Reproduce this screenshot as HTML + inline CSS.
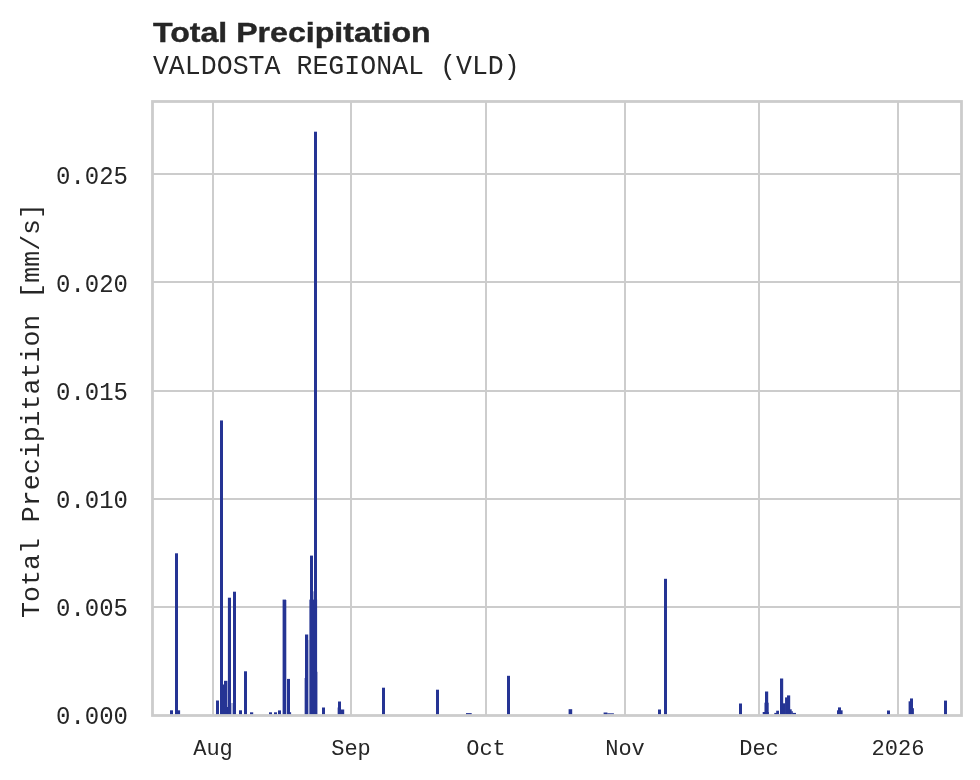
<!DOCTYPE html>
<html><head><meta charset="utf-8"><title>Total Precipitation</title><style>
html,body{margin:0;padding:0;background:#fff;}
svg{display:block;}
text{fill:#262626;}
.txt{filter:grayscale(1);}
.mono{font-family:"Liberation Mono",monospace;}
.sans{font-family:"Liberation Sans",sans-serif;}
</style></head><body>
<svg width="980" height="780" viewBox="0 0 980 780">
<rect x="0" y="0" width="980" height="780" fill="#fff"/>
<g stroke="#cccccc" stroke-width="1.94" fill="none">
<line x1="213" y1="101.5" x2="213" y2="715.5"/>
<line x1="351" y1="101.5" x2="351" y2="715.5"/>
<line x1="486" y1="101.5" x2="486" y2="715.5"/>
<line x1="625" y1="101.5" x2="625" y2="715.5"/>
<line x1="759" y1="101.5" x2="759" y2="715.5"/>
<line x1="898" y1="101.5" x2="898" y2="715.5"/>
<line x1="152.5" y1="174" x2="961.5" y2="174"/>
<line x1="152.5" y1="282" x2="961.5" y2="282"/>
<line x1="152.5" y1="391" x2="961.5" y2="391"/>
<line x1="152.5" y1="499" x2="961.5" y2="499"/>
<line x1="152.5" y1="607" x2="961.5" y2="607"/>
</g>
<g fill="#253494">
<rect x="170" y="710.3" width="3" height="5.2"/>
<rect x="175" y="553.3" width="3" height="162.2"/>
<rect x="177.5" y="710.3" width="2.6" height="5.2"/>
<rect x="216" y="700.5" width="3" height="15.0"/>
<rect x="220" y="420.45" width="3" height="295.05"/>
<rect x="220" y="684.5" width="4.2" height="31.0"/>
<rect x="224" y="680.8" width="3.4" height="34.7"/>
<rect x="226" y="707" width="3" height="8.5"/>
<rect x="227.9" y="597.7" width="3.1" height="117.8"/>
<rect x="233" y="591.7" width="3" height="123.8"/>
<rect x="239" y="710.3" width="3" height="5.2"/>
<rect x="244" y="671.3" width="3" height="44.2"/>
<rect x="250" y="712.3" width="3.2" height="3.2"/>
<rect x="269" y="712.3" width="3" height="3.2"/>
<rect x="274" y="712.3" width="3" height="3.2"/>
<rect x="278" y="710.4" width="3" height="5.1"/>
<rect x="282.6" y="599.6" width="3.4" height="115.9"/>
<rect x="287" y="678.9" width="3" height="36.6"/>
<rect x="290" y="712.2" width="1.1" height="3.3"/>
<rect x="305" y="634.5" width="3.2" height="81.0"/>
<rect x="309.4" y="599.6" width="7.7" height="115.9"/>
<rect x="310" y="555.6" width="3" height="159.9"/>
<rect x="314" y="131.7" width="3" height="583.8"/>
<rect x="322" y="707.5" width="3" height="8.0"/>
<rect x="338" y="701.5" width="3" height="14.0"/>
<rect x="340.8" y="709.5" width="3.4" height="6.0"/>
<rect x="382" y="687.7" width="3" height="27.8"/>
<rect x="436" y="689.7" width="3" height="25.8"/>
<rect x="466" y="713.1" width="5.7" height="2.4"/>
<rect x="507" y="675.8" width="3" height="39.7"/>
<rect x="568.6" y="709.2" width="3.6" height="6.3"/>
<rect x="603.6" y="712.5" width="3.8" height="3.0"/>
<rect x="658" y="709.5" width="3" height="6.0"/>
<rect x="664" y="578.8" width="3" height="136.7"/>
<rect x="739" y="703.5" width="3" height="12.0"/>
<rect x="765" y="691.5" width="3.2" height="24.0"/>
<rect x="762.7" y="712" width="6.1" height="3.5"/>
<rect x="764.8" y="702.7" width="3.8" height="12.8"/>
<rect x="776.2" y="710.7" width="2.8" height="4.8"/>
<rect x="774.3" y="712.9" width="4.7" height="2.6"/>
<rect x="780" y="678.5" width="3.2" height="37.0"/>
<rect x="782.8" y="703.3" width="2.65" height="12.2"/>
<rect x="785.05" y="697.4" width="2.35" height="18.1"/>
<rect x="787.0" y="695.4" width="3.2" height="20.1"/>
<rect x="789.8" y="709.3" width="1.9" height="6.2"/>
<rect x="791.3" y="711.2" width="1.5" height="4.3"/>
<rect x="792.4" y="712.9" width="3.6" height="2.6"/>
<rect x="838" y="707.4" width="3" height="8.1"/>
<rect x="837" y="710.3" width="5.6" height="5.2"/>
<rect x="887" y="710.5" width="3" height="5.0"/>
<rect x="910" y="698.45" width="3" height="17.05"/>
<rect x="908.6" y="701.3" width="1.6" height="14.2"/>
<rect x="912.8" y="708.2" width="1.1" height="7.3"/>
<rect x="944" y="700.6" width="3" height="14.9"/>
<rect x="607.2" y="713" width="6.7" height="2.5" opacity="0.7"/>
<rect x="304.3" y="678" width="0.7" height="37.5" opacity="0.5"/>
<rect x="317.1" y="671.8" width="0.7" height="43.7" opacity="0.5"/>
<rect x="337.3" y="707.5" width="0.7" height="8.0" opacity="0.5"/>
<rect x="764.2" y="702.7" width="0.8" height="12.8" opacity="0.5"/>
<rect x="231" y="703" width="2" height="12.5" opacity="0.35"/>
<rect x="313" y="591.3" width="1" height="124.2" opacity="0.4"/>
<rect x="308.2" y="640" width="1.2" height="75.5" opacity="0.25"/>
<rect x="286" y="600" width="1" height="115.5" opacity="0.3"/>
</g>
<rect x="152.5" y="101.5" width="809" height="614" fill="none" stroke="#cccccc" stroke-width="2.8"/>
<g class="txt">
<text class="sans" font-size="28.0" font-weight="bold" stroke="#262626" stroke-width="0.4" transform="translate(153,41.9) scale(1.147,1.0)">Total Precipitation</text>
<text class="mono" font-size="26.6" transform="translate(152.9,73.6) scale(1.0,1.035)">VALDOSTA REGIONAL (VLD)</text>
<g class="mono" font-size="24.0">
<text text-anchor="end" transform="translate(128,724.0) scale(1,1.05)">0.000</text>
<text text-anchor="end" transform="translate(128,616.0) scale(1,1.05)">0.005</text>
<text text-anchor="end" transform="translate(128,508.0) scale(1,1.05)">0.010</text>
<text text-anchor="end" transform="translate(128,400.0) scale(1,1.05)">0.015</text>
<text text-anchor="end" transform="translate(128,292.0) scale(1,1.05)">0.020</text>
<text text-anchor="end" transform="translate(128,184.0) scale(1,1.05)">0.025</text>
</g>
<g class="mono" font-size="22">
<text text-anchor="middle" transform="translate(213,754.6) scale(1,1.03)">Aug</text>
<text text-anchor="middle" transform="translate(351,754.6) scale(1,1.03)">Sep</text>
<text text-anchor="middle" transform="translate(486,754.6) scale(1,1.03)">Oct</text>
<text text-anchor="middle" transform="translate(625,754.6) scale(1,1.03)">Nov</text>
<text text-anchor="middle" transform="translate(759,754.6) scale(1,1.03)">Dec</text>
<text text-anchor="middle" transform="translate(898,754.6) scale(1,1.03)">2026</text>
</g>
<text class="mono" font-size="26.6" transform="translate(39.1,617.9) rotate(-90) scale(1,1.0)">Total Precipitation [mm/s]</text>
</g>
</svg>
</body></html>
